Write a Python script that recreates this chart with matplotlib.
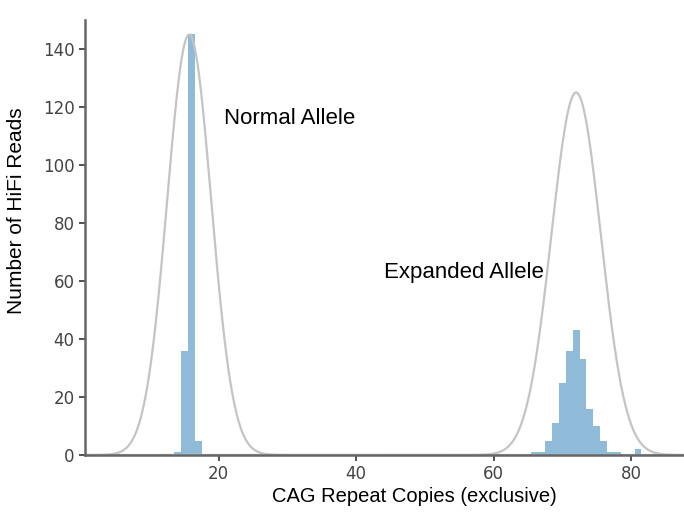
import numpy as np
import matplotlib.pyplot as plt

# histogram of CAG repeat counts (reads per repeat number)
normal_repeats = [14, 15, 16, 17]
normal_reads = [1, 36, 145, 5]
expanded_repeats = [66, 67, 68, 69, 70, 71, 72, 73, 74, 75, 76, 77, 78, 81]
expanded_reads = [1, 1, 5, 11, 25, 36, 43, 33, 16, 10, 5, 1, 1, 2]

# fitted normal curves: centre, height, sd
curve_centers = [15.7, 72.0]
curve_heights = [145, 125]
curve_sds = [3.2, 3.6]

xticks = [20, 40, 60, 80]
yticks = [0, 20, 40, 60, 80, 100, 120, 140]

fig = plt.figure(figsize=(6.84, 5.15), dpi=100)
ax = fig.add_axes([85 / 684, 60 / 515, 1 - 85 / 684, 435 / 515])

bar_color = "#8fbbd9"
ax.bar(normal_repeats, normal_reads, width=1.0, color=bar_color, linewidth=0)
ax.bar(expanded_repeats, expanded_reads, width=1.0, color=bar_color, linewidth=0)

xs = np.linspace(0, 90, 900)
for c, h, s in zip(curve_centers, curve_heights, curve_sds):
    ax.plot(xs, h * np.exp(-0.5 * ((xs - c) / s) ** 2), color="#c4c4c4", lw=1.6)

ax.set_xlim(0.54, 87.7)
ax.set_ylim(0, 150)
ax.set_xticks(xticks)
ax.set_yticks(yticks)

for side in ["top", "right"]:
    ax.spines[side].set_visible(False)
for side in ["left", "bottom"]:
    ax.spines[side].set_color("#666666")
    ax.spines[side].set_linewidth(1.8)
ax.tick_params(colors="#444444", labelsize=12, width=1.3, length=4)

ax.text(20.7, 116, "Normal Allele", va="center", family="Liberation Sans", fontsize=16)
ax.text(44.1, 63, "Expanded Allele", va="center", family="Liberation Sans", fontsize=16)
fig.text(414 / 684, 1 - 497 / 515, "CAG Repeat Copies (exclusive)", ha="center", va="center",
         family="Liberation Sans", fontsize=14.5)
fig.text(17 / 684, 1 - 211 / 515, "Number of HiFi Reads", rotation=90, ha="center", va="center",
         family="Liberation Sans", fontsize=15)

fig.savefig("out.png", dpi=100)
